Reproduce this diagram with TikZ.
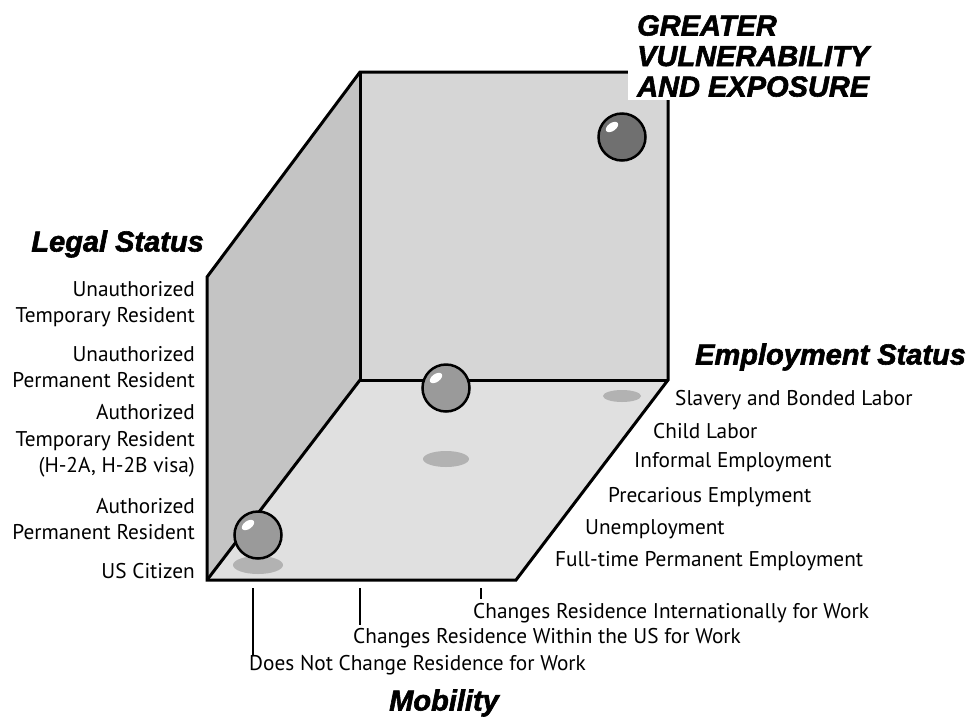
\documentclass[tikz,border=0pt]{standalone}
\usepackage{fontspec}
\setmainfont{PT Sans}
\newfontfamily\headfont{Liberation Sans}[FakeBold=2]
\usetikzlibrary{calc}
\definecolor{wallL}{HTML}{C4C4C4}
\definecolor{wallB}{HTML}{D6D6D6}
\definecolor{floorc}{HTML}{E0E0E0}
\definecolor{ballc}{HTML}{9A9A9A}
\definecolor{balldark}{HTML}{707070}
\definecolor{shadowc}{HTML}{B2B2B2}
\begin{document}
\begin{tikzpicture}[x=1pt,y=-1pt,
  edge/.style={line width=3pt, line join=miter},
  ball/.style={circle, draw=black, line width=2.5pt, fill=ballc, minimum size=47pt, inner sep=0pt},
  lbl/.style={font=\fontsize{21.3}{26.5}\selectfont, inner sep=0pt},
  head/.style={font=\fontsize{29}{30.5}\selectfont\headfont\bfseries\itshape, inner sep=0pt},
  tickline/.style={line width=1.8pt},
  shadowe/.style={fill=shadowc, draw=none},
  hilite/.style={fill=white, draw=none}]
\useasboundingbox (0,0) rectangle (967,716);
% corners of the box
\coordinate (A) at (207,277);
\coordinate (B) at (360,72);
\coordinate (C) at (668,72);
\coordinate (D) at (668,380);
\coordinate (E) at (360,380);
\coordinate (F) at (207,580);
\coordinate (G) at (516,580);
\fill[wallB] (B) -- (C) -- (D) -- (E) -- cycle;
\fill[wallL] (A) -- (B) -- (E) -- (F) -- cycle;
\fill[floorc] (F) -- (E) -- (D) -- (G) -- cycle;
\draw[edge] (A) -- (B) -- (C) -- (D) -- (G) -- (F) -- cycle;
\draw[edge] (B) -- (E) -- (D);
\draw[edge] (E) -- (F);
% shadows
\fill[shadowe] (622,396) ellipse [x radius=19, y radius=6];
\fill[shadowe] (446,459) ellipse [x radius=23, y radius=8];
\fill[shadowe] (258,565) ellipse [x radius=25, y radius=9];
% balls
\node[ball, fill=balldark] (b3) at (622,137) {};
\node[ball] (b2) at (446,388) {};
\node[ball] (b1) at (258,535) {};
\foreach \b in {b1,b2,b3}{
  \fill[hilite] ($(\b.center)+(-10,-10)$) ellipse [x radius=7, y radius=4, rotate=35];
}
% title
\node[head, fill=white, anchor=south west, align=left, inner xsep=9pt, inner ysep=3pt] (gve) at (628,100) {GREATER\\VULNERABILITY\\AND EXPOSURE};
% legal status
\node[head, anchor=east] (legal) at (204,244) {Legal Status};
\node[lbl, anchor=east, align=right] (l1) at (195,304) {Unauthorized\\Temporary Resident};
\node[lbl, anchor=east, align=right] (l2) at (195,367) {Unauthorized\\Permanent Resident};
\node[lbl, anchor=east, align=right] (l3) at (195,441) {Authorized\\Temporary Resident\\(H-2A, H-2B visa)};
\node[lbl, anchor=east, align=right] (l4) at (195,519) {Authorized\\Permanent Resident};
\node[lbl, anchor=east] (l5) at (195,571) {US Citizen};
% employment status
\node[head, anchor=west] (emp) at (695,357) {Employment Status};
\node[lbl, anchor=west] (e1) at (675,400) {Slavery and Bonded Labor};
\node[lbl, anchor=west] (e2) at (653,431) {Child Labor};
\node[lbl, anchor=west] (e3) at (634,462) {Informal Employment};
\node[lbl, anchor=west] (e4) at (608,497) {Precarious Emplyment};
\node[lbl, anchor=west] (e5) at (585,529) {Unemployment};
\node[lbl, anchor=west] (e6) at (555,561) {Full-time Permanent Employment};
% mobility
\node[lbl, anchor=west] (m3) at (473,613) {Changes Residence Internationally for Work};
\node[lbl, anchor=west] (m2) at (353,638) {Changes Residence Within the US for Work};
\node[lbl, anchor=west] (m1) at (249,665) {Does Not Change Residence for Work};
\node[head] (mob) at (444,703) {Mobility};
% ticks
\coordinate (t1a) at (253,588); \coordinate (t1b) at (253,656);
\coordinate (t2a) at (360,588); \coordinate (t2b) at (360,625);
\coordinate (t3a) at (481,588); \coordinate (t3b) at (481,599);
\draw[tickline] (t1a) -- (t1b);
\draw[tickline] (t2a) -- (t2b);
\draw[tickline] (t3a) -- (t3b);
\end{tikzpicture}
\end{document}
